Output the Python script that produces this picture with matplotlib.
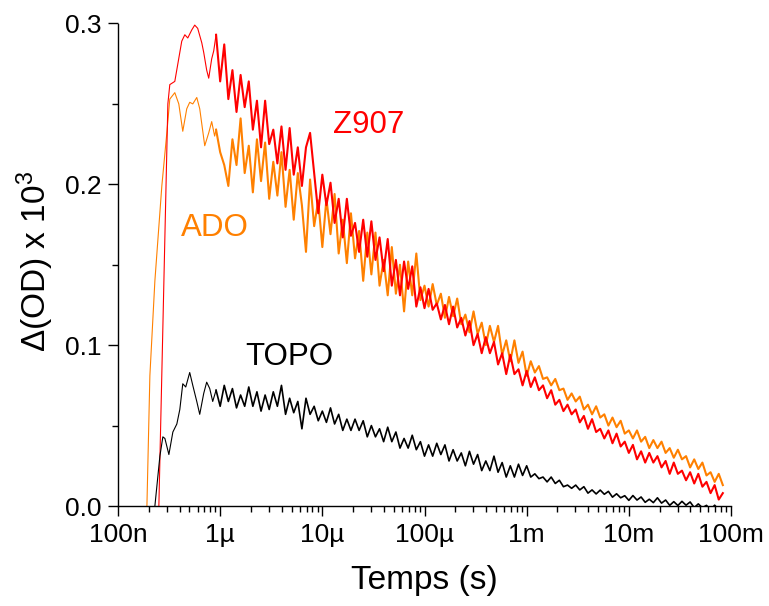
import numpy as np
import matplotlib.pyplot as plt
from matplotlib.ticker import FixedLocator, FixedFormatter, LogLocator, MultipleLocator, NullFormatter

plt.rcParams['font.family'] = ['Liberation Sans', 'DejaVu Sans']
plt.rcParams['mathtext.fontset'] = 'custom'
plt.rcParams['mathtext.rm'] = 'Liberation Sans'
plt.rcParams['mathtext.it'] = 'Liberation Sans'

# log10(time / s) of the early part of each trace (rise + oscillations)
z907_logt_early = [-6.600, -6.512, -6.493, -6.444, -6.376, -6.346, -6.317, -6.278, -6.249,
                   -6.220, -6.180, -6.161, -6.132, -6.112, -6.083, -6.063]
z907_od_early = [0.0, 0.250, 0.262, 0.264, 0.289, 0.293, 0.291, 0.296, 0.299,
                 0.297, 0.288, 0.282, 0.271, 0.266, 0.278, 0.283]

ado_logt_early = [-6.717, -6.688, -6.639, -6.571, -6.522, -6.493, -6.444, -6.405, -6.366,
                  -6.327, -6.298, -6.268, -6.229, -6.200, -6.151, -6.112, -6.083, -6.054]
ado_od_early = [0.0, 0.081, 0.140, 0.199, 0.232, 0.253, 0.257, 0.250, 0.233,
                0.247, 0.251, 0.250, 0.254, 0.247, 0.224, 0.232, 0.239, 0.230]

topo_logt_early = [-6.639, -6.590, -6.561, -6.541, -6.502, -6.463, -6.424, -6.395, -6.366,
                   -6.337, -6.298, -6.268, -6.229, -6.200, -6.161, -6.132, -6.102, -6.073]
topo_od_early = [0.0, 0.031, 0.043, 0.042, 0.032, 0.046, 0.051, 0.060, 0.076,
                 0.074, 0.083, 0.075, 0.065, 0.057, 0.070, 0.077, 0.073, 0.065]

# log10(time / s) of the noisy tail, shared by the three traces
logt_tail = [
    -6.04, -6.00, -5.96, -5.92, -5.88, -5.84, -5.80, -5.76, -5.72, -5.68,
    -5.64, -5.60, -5.56, -5.52, -5.48, -5.44, -5.40, -5.36, -5.32, -5.28,
    -5.24, -5.20, -5.16, -5.12, -5.08, -5.04, -5.00, -4.96, -4.92, -4.88,
    -4.84, -4.80, -4.76, -4.72, -4.68, -4.64, -4.60, -4.56, -4.52, -4.48,
    -4.44, -4.40, -4.36, -4.32, -4.28, -4.24, -4.20, -4.16, -4.12, -4.08,
    -4.04, -4.00, -3.96, -3.92, -3.88, -3.84, -3.80, -3.76, -3.72, -3.68,
    -3.64, -3.60, -3.56, -3.52, -3.48, -3.44, -3.40, -3.36, -3.32, -3.28,
    -3.24, -3.20, -3.16, -3.12, -3.08, -3.04, -3.00, -2.96, -2.92, -2.88,
    -2.84, -2.80, -2.76, -2.72, -2.68, -2.64, -2.60, -2.56, -2.52, -2.48,
    -2.44, -2.40, -2.36, -2.32, -2.28, -2.24, -2.20, -2.16, -2.12, -2.08,
    -2.04, -2.00, -1.96, -1.92, -1.88, -1.84, -1.80, -1.76, -1.72, -1.68,
    -1.64, -1.60, -1.56, -1.52, -1.48, -1.44, -1.40, -1.36, -1.32, -1.28,
    -1.24, -1.20, -1.16, -1.12, -1.08]

z907_od_tail = [
    .293, .264, .287, .253, .271, .245, .268, .248, .264, .234,
    .252, .223, .252, .225, .234, .213, .236, .209, .235, .206,
    .223, .199, .223, .232, .207, .182, .206, .187, .201, .176,
    .191, .167, .191, .168, .176, .158, .178, .155, .177, .153,
    .167, .146, .166, .137, .153, .131, .152, .135, .149, .124,
    .136, .123, .135, .122, .126, .116, .125, .113, .124, .111,
    .117, .106, .115, .100, .107, .095, .105, .095, .102, .088,
    .095, .082, .094, .082, .085, .075, .084, .074, .080, .072,
    .075, .067, .072, .063, .066, .059, .063, .057, .060, .052,
    .056, .048, .054, .046, .048, .042, .047, .039, .045, .037,
    .040, .033, .038, .029, .034, .027, .033, .027, .031, .024,
    .028, .020, .027, .020, .022, .016, .021, .014, .020, .012,
    .015, .008, .013, .004, .008]

ado_od_tail = [
    .234, .220, .212,
    .199, .228, .212, .241, .207, .224, .195, .228, .202, .226,
    .191, .214, .193, .220, .186, .209, .178, .207, .187, .158,
    .203, .174, .190, .161, .191, .169, .194, .157, .178, .151,
    .182, .154, .171, .140, .170, .144, .170, .137, .153, .131,
    .161, .132, .150, .121, .152, .131, .157, .128, .137, .124,
    .138, .125, .132, .117, .130, .118, .129, .113, .119, .108,
    .121, .107, .114, .100, .112, .102, .112, .094, .103, .090,
    .103, .089, .096, .081, .090, .083, .087, .079, .080, .075,
    .079, .072, .073, .066, .070, .065, .068, .060, .063, .057,
    .062, .055, .057, .050, .055, .049, .053, .045, .047, .042,
    .047, .040, .043, .036, .041, .036, .040, .033, .036, .030,
    .035, .029, .031, .024, .029, .023, .027, .019, .021, .015,
    .020, .013]

topo_od_tail = [
    .072, .062, .075, .065, .073, .061, .069, .062, .074, .062,
    .071, .059, .069, .060, .071, .062, .075, .057, .067, .058,
    .065, .048, .067, .057, .062, .053, .059, .052, .061, .051,
    .057, .047, .054, .047, .054, .047, .053, .043, .050, .043,
    .048, .040, .049, .040, .046, .036, .042, .036, .044, .035,
    .040, .031, .038, .031, .039, .032, .038, .028, .035, .028,
    .033, .025, .034, .026, .032, .022, .028, .022, .031, .021,
    .027, .018, .025, .018, .026, .019, .025, .018, .020, .017,
    .018, .015, .018, .014, .016, .012, .013, .011, .013, .010,
    .012, .008, .010, .0075, .0099, .0073, .0091, .0055, .0076, .0051,
    .0064, .0035, .0065, .0037, .0056, .0023, .0042, .0021, .0051, .0018,
    .0037, .0004, .0027, .0003, .0029, .0005, .0025, -.001, .0013, -.0011,
    .0004, -.0024, .0005, -.0024, -.0006]

tick_pos = [1e-7, 1e-6, 1e-5, 1e-4, 1e-3, 1e-2, 1e-1]
tick_labels = ['100n', '1µ', '10µ', '100µ', '1m', '10m', '100m']


def draw(ax, logt_early, od_early, od_tail, color, lw_tail):
    # thin smooth start, then the dense noisy tail
    t_e = 10 ** np.array(logt_early + logt_tail[:1])
    ax.plot(t_e, od_early + od_tail[:1], color=color, lw=0.8)
    ax.plot(10 ** np.array(logt_tail), od_tail, color=color, lw=lw_tail)


fig = plt.figure(figsize=(7.69, 6.06), dpi=100)
ax = fig.add_axes([118 / 769, 1 - 506 / 606, 613 / 769, 482.5 / 606])

draw(ax, ado_logt_early, ado_od_early, ado_od_tail, '#FF8000', 1.5)
draw(ax, z907_logt_early, z907_od_early, z907_od_tail, '#FF0000', 1.5)
draw(ax, topo_logt_early, topo_od_early, topo_od_tail, 'black', 1.2)

ax.set_xscale('log')
ax.set_xlim(1e-7, 1e-1)
ax.set_ylim(0, 0.3)

ax.xaxis.set_major_locator(FixedLocator(tick_pos))
ax.xaxis.set_major_formatter(FixedFormatter(tick_labels))
ax.xaxis.set_minor_locator(LogLocator(base=10, subs=np.arange(2, 10)))
ax.xaxis.set_minor_formatter(NullFormatter())
ax.yaxis.set_major_locator(MultipleLocator(0.1))
ax.yaxis.set_minor_locator(MultipleLocator(0.05))
ax.yaxis.set_major_formatter(plt.FormatStrFormatter('%.1f'))

for s in ['top', 'right']:
    ax.spines[s].set_visible(False)
for s in ['left', 'bottom']:
    ax.spines[s].set_linewidth(1.0)
ax.tick_params(which='major', direction='out', length=7, width=1, labelsize=19, pad=5)
ax.tick_params(which='minor', direction='out', length=4, width=1)

ax.set_xlabel('Temps (s)', fontsize=24, va='center')
ax.xaxis.set_label_coords(0.5, -0.1535)
ax.set_ylabel('Δ(OD) x 10$^3$', fontsize=24, va='center', ha='center')
ax.yaxis.set_label_coords(-0.135, 0.506)

ax.text(10 ** -4.896, 0.237, 'Z907', color='#FF0000', fontsize=22.5, va='center', ha='left')
ax.text(10 ** -6.384, 0.173, 'ADO', color='#FF8000', fontsize=22.5, va='center', ha='left')
ax.text(10 ** -5.757, 0.0927, 'TOPO', color='black', fontsize=22.5, va='center', ha='left')

fig.savefig('out.png', dpi=100)
